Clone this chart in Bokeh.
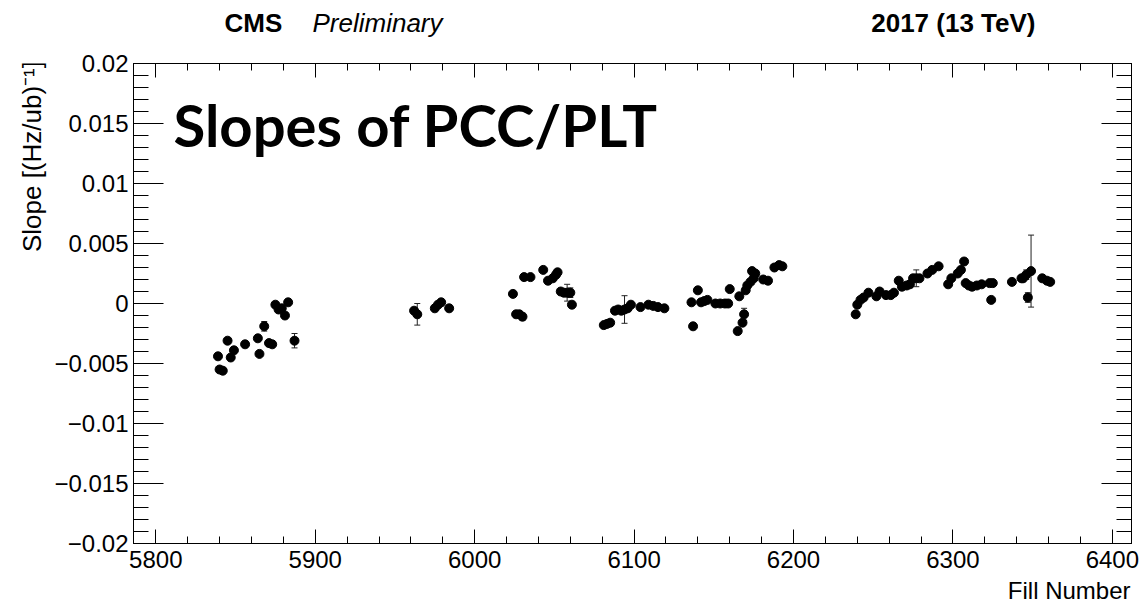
import math
from bokeh.plotting import figure
from bokeh.layouts import column, row
from bokeh.models import (Range1d, LinearAxis, SingleIntervalTicker, CustomJSTickFormatter,
                          ColumnDataSource, Whisker, TeeHead, Label)
from bokeh.embed import file_html
from bokeh.resources import INLINE

# ---------------- data ----------------
fill_number = [
    5839, 5840, 5842, 5845, 5847, 5849, 5856, 5864, 5865, 5868, 5871, 5873, 5875, 5877, 5879, 5881, 5883, 5887,
    5962, 5964, 5975, 5977, 5979, 5984,
    6024, 6026, 6028, 6030, 6031, 6035, 6043, 6046, 6049, 6051, 6052, 6054, 6056, 6058, 6060, 6061,
    6081, 6083, 6085, 6088, 6090, 6092, 6094, 6096, 6098, 6104, 6109, 6112, 6115, 6119,
    6136, 6137, 6140, 6142, 6144, 6146, 6151, 6154, 6157, 6159, 6160, 6165, 6168, 6169, 6166, 6170, 6171, 6173,
    6175, 6174, 6176, 6181, 6184, 6188, 6191, 6193,
    6239, 6240, 6242, 6244, 6247, 6252, 6254, 6258, 6261, 6263, 6266, 6268, 6271, 6273, 6275, 6277, 6279,
    6284, 6287, 6291, 6297, 6299, 6303, 6305, 6307, 6308, 6310, 6312, 6315, 6318, 6323, 6325, 6324, 6337,
    6343, 6344, 6346, 6349, 6347, 6356, 6359, 6361,
]
slope = [
    -0.0044, -0.0055, -0.0056, -0.0031, -0.0045, -0.0039, -0.0034, -0.0029, -0.0042, -0.0019, -0.0033, -0.0034,
    -0.0001, -0.0005, -0.0004, -0.0010, 0.0001, -0.0031,
    -0.0006, -0.0009, -0.0004, -0.0001, 0.0001, -0.0004,
    0.0008, -0.0009, -0.0009, -0.0011, 0.0022, 0.0022, 0.0028, 0.0019, 0.0021, 0.0024, 0.0026, 0.0010, 0.0009,
    0.0009, 0.0009, -0.0001,
    -0.0018, -0.0017, -0.0016, -0.0006, -0.0005, -0.0006, -0.0005, -0.0004, -0.0001, -0.0003, -0.0001, -0.0002,
    -0.0003, -0.0004,
    0.0001, -0.0019, 0.0011, 0.0001, 0.0002, 0.0003, 0.0000, 0.0000, 0.0000, 0.0000, 0.0012, -0.0023, -0.0016,
    -0.0009, 0.0006, 0.0011, 0.0015, 0.0018, 0.0021, 0.0027, 0.0025, 0.0020, 0.0019, 0.0030, 0.0032, 0.0031,
    -0.0009, -0.0001, 0.0003, 0.0005, 0.0009, 0.0006, 0.0010, 0.0007, 0.0007, 0.0009, 0.0019, 0.0014, 0.0015,
    0.0016, 0.0021, 0.0021, 0.0021, 0.0025, 0.0028, 0.0031, 0.0016, 0.0021, 0.0025, 0.0028, 0.0035, 0.0017,
    0.0015, 0.0014, 0.0015, 0.0016, 0.0017, 0.0017, 0.0003, 0.0018, 0.0021, 0.0021, 0.0024, 0.0027, 0.0005,
    0.0021, 0.0019, 0.0018,
]
slope_err = [
    0.0002, 0.0002, 0.0002, 0.0002, 0.0002, 0.0002, 0.0002, 0.0002, 0.0002, 0.0004, 0.0002, 0.0002, 0.0002,
    0.0002, 0.0002, 0.0002, 0.0002, 0.0006,
    0.0002, 0.0009, 0.0002, 0.0002, 0.0002, 0.0002,
    0.0002, 0.0002, 0.0002, 0.0003, 0.0002, 0.0002, 0.0002, 0.0002, 0.0002, 0.0002, 0.0002, 0.0002, 0.0002,
    0.0007, 0.0004, 0.0002,
    0.0002, 0.0002, 0.0002, 0.0002, 0.0002, 0.0002, 0.00115, 0.0002, 0.0002, 0.0002, 0.0002, 0.0002, 0.0002,
    0.0002,
    0.0002, 0.0002, 0.0002, 0.0002, 0.0002, 0.0002, 0.0002, 0.0002, 0.0003, 0.0002, 0.0002, 0.0002, 0.0002,
    0.0005, 0.0002, 0.0002, 0.0002, 0.0002, 0.0002, 0.0002, 0.0002, 0.0002, 0.0002, 0.0002, 0.0002, 0.0002,
    0.0002, 0.0002, 0.0002, 0.0002, 0.0002, 0.0002, 0.0002, 0.0002, 0.0002, 0.0002, 0.0002, 0.0002, 0.0002,
    0.0002, 0.0002, 0.0007, 0.0002, 0.0002, 0.0002, 0.0002, 0.0002, 0.0002, 0.0002, 0.0002, 0.0002, 0.0002,
    0.0002, 0.0002, 0.0002, 0.0002, 0.0002, 0.0002, 0.0002, 0.0002, 0.0002, 0.0002, 0.0004, 0.0030, 0.0004,
    0.0002, 0.0002, 0.0002,
]

x_range_limits = (5786, 6412)
y_range_limits = (-0.02, 0.02)

title_left = "CMS"
title_left_sub = "Preliminary"
title_right = "2017 (13 TeV)"
plot_label = "Slopes of PCC/PLT"
x_label = "Fill Number"
y_label = "Slope [(Hz/ub)\u207b\u00b9]"

FONT = "Liberation Sans"
W, H = 1145, 605
TOP_H = 45
LEFT_W = 48
MAIN_BOTTOM = 577          # canvas y where the main plot panel ends
MAIN_H = MAIN_BOTTOM - TOP_H
BOTTOM_H = H - MAIN_BOTTOM


def text_canvas(w, h):
    f = figure(width=w, height=h, output_backend="svg", toolbar_location=None,
               x_range=Range1d(0, w), y_range=Range1d(0, h),
               x_axis_type=None, y_axis_type=None, min_border=0)
    f.outline_line_color = None
    f.background_fill_color = "white"
    f.border_fill_color = "white"
    return f


def lab(fig, text, x, y, **kw):
    opts = dict(text_font=FONT, text_color="black", text_baseline="alphabetic", text_align="left")
    opts.update(kw)
    fig.add_layout(Label(x=x, y=y, text=text, **opts))


# ---------------- main plot ----------------
p = figure(width=W - LEFT_W, height=MAIN_H, output_backend="svg", toolbar_location=None,
           x_range=Range1d(*x_range_limits), y_range=Range1d(*y_range_limits),
           x_axis_type=None, y_axis_type=None,
           min_border_left=133 - LEFT_W, min_border_right=14, min_border_top=63 - TOP_H,
           min_border_bottom=MAIN_BOTTOM - 543)
p.outline_line_color = "black"
p.outline_line_width = 1
p.background_fill_color = "white"
p.border_fill_color = "white"

ylab_fmt = CustomJSTickFormatter(code="""
if (Math.abs(tick) < 1e-9) return "0";
var s = String(parseFloat(tick.toFixed(6)));
return s.replace("-", "\\u2212");
""")


def make_axis(kind, labeled):
    if kind == "x":
        ticker = SingleIntervalTicker(interval=100, num_minor_ticks=5)
        maj, mnr = 14, 7
    else:
        ticker = SingleIntervalTicker(interval=0.005, num_minor_ticks=5)
        maj, mnr = 30, 15
    ax = LinearAxis(ticker=ticker)
    ax.major_tick_in = maj
    ax.major_tick_out = 0
    ax.minor_tick_in = mnr
    ax.minor_tick_out = 0
    ax.axis_line_color = "black"
    ax.major_tick_line_color = "black"
    ax.minor_tick_line_color = "black"
    ax.major_label_text_font = FONT
    ax.major_label_text_color = "black"
    if labeled:
        ax.major_label_text_font_size = "24px"
        if kind == "y":
            ax.formatter = ylab_fmt
            ax.major_label_standoff = 5
        else:
            ax.major_label_standoff = 7
    else:
        ax.formatter = CustomJSTickFormatter(code="return '';")
        ax.major_label_text_font_size = "0px"
        ax.major_label_standoff = 0
    return ax


p.add_layout(make_axis("x", True), "below")
p.add_layout(make_axis("x", False), "above")
p.add_layout(make_axis("y", True), "left")
p.add_layout(make_axis("y", False), "right")

src = ColumnDataSource(dict(
    x=fill_number, y=slope,
    lower=[s - e for s, e in zip(slope, slope_err)],
    upper=[s + e for s, e in zip(slope, slope_err)],
))

p.add_layout(Whisker(source=src, base="x", lower="lower", upper="upper", dimension="height",
                     line_color="#222222", line_width=1,
                     lower_head=TeeHead(size=6, line_color="#222222", line_width=1),
                     upper_head=TeeHead(size=6, line_color="#222222", line_width=1)))
p.scatter("x", "y", source=src, marker="circle", size=9, fill_color="black", line_color="black")

# big label inside the frame (screen units from frame bottom-left)
lab(p, plot_label, 40, 419, x_units="screen", y_units="screen",
    text_font="Lato", text_font_style="bold", text_font_size="58px")

# ---------------- surrounding text panels ----------------
# (rendered baseline sits ~0.39 em below the requested position; compensated here)
top = text_canvas(W, TOP_H)
lab(top, title_left, 224, TOP_H - 32 + 10, text_font_style="bold", text_font_size="26px")
lab(top, title_left_sub, 312, TOP_H - 32 + 10, text_font_style="italic", text_font_size="26px")
lab(top, title_right, 1035, TOP_H - 32 + 10, text_font_style="bold", text_font_size="26px", text_align="right")

left = text_canvas(LEFT_W, MAIN_H)
lab(left, y_label, 31, MAIN_BOTTOM - 254, text_font_size="26px", angle=math.pi / 2)

bottom = text_canvas(W, BOTTOM_H)
lab(bottom, x_label, 1130, H - 599.5 + 9.5, text_font_size="24px", text_align="right")

layout = column(top, row(left, p, spacing=0), bottom, spacing=0)

open("out.html", "w").write(file_html(layout, INLINE))
